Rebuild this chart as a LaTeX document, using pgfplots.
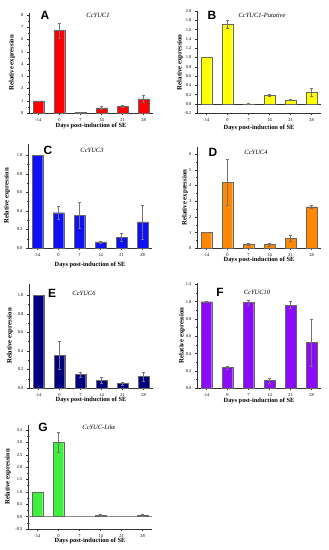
\documentclass[border=0pt]{standalone}
\usepackage{pgfplots}
\pgfplotsset{compat=1.18}
\usepackage{fontspec}
\setmainfont{Liberation Serif}
\newfontfamily\panelfont{Liberation Sans}
\definecolor{cA}{RGB}{255,0,0}
\definecolor{cB}{RGB}{255,255,0}
\definecolor{cC}{RGB}{16,16,245}
\definecolor{cD}{RGB}{255,136,0}
\definecolor{cE}{RGB}{0,0,128}
\definecolor{cF}{RGB}{140,10,250}
\definecolor{cG}{RGB}{60,240,60}
\pgfplotsset{
  panel/.style={
    scale only axis, width=124bp,
    axis x line*=bottom, axis y line*=left,
    axis line style={-, black!80, line width=0.5pt},
    xmin=-0.45, xmax=5.45,
    xtick={0,...,5}, xticklabels={-14,0,7,14,21,28},
    tick align=outside, major tick length=2bp, minor tick length=1bp,
    tick style={black!80, line width=0.4pt},
    minor y tick num=1,
    ticklabel style={font=\fontsize{4.5}{5}\selectfont},
    /pgf/number format/assume math mode=true,
    xlabel={Days post-induction of SE},
    ylabel={Relative expression},
    xlabel style={font=\fontsize{6.4}{7}\selectfont\bfseries, at={(axis description cs:0.5,0)}, anchor=center, yshift=-13bp},
    ylabel style={font=\fontsize{6.8}{7}\selectfont\bfseries, at={(axis description cs:0,0.5)}, anchor=center},
    clip=false,
  },
  dec1/.style={yticklabel style={/pgf/number format/.cd, fixed, fixed zerofill, precision=1}},
  bars/.style={ybar, bar width=10.5bp, fill=#1, draw=black!60, line width=0.3pt, mark=none,
    error bars/.cd, y dir=both, y explicit,
    error bar style={black!55, line width=0.4pt},
    error mark options={rotate=90, mark size=1.2bp, black!55}},
}
\newcommand{\ttl}[3]{\node[font=\fontsize{6.5}{7}\selectfont\itshape] at (#1bp,#2bp) {#3};}
\newcommand{\lett}[3]{\node[font=\panelfont\fontsize{12}{12}\selectfont\bfseries] at (#1bp,#2bp) {#3};}
\begin{document}
\begin{tikzpicture}
\path[use as bounding box] (0,0) rectangle (329bp,550bp);
% A
\begin{axis}[panel, at={(29bp,437bp)}, anchor=south west, height=100.4bp,
  ymin=0, ymax=8.2, ytick={0,1,...,8}, ylabel style={yshift=17bp}]
\addplot[bars=cA] coordinates {(0,1.0) +- (0,0) (1,6.75) +- (0,0.62) (2,0.03) +- (0,0.01) (3,0.42) +- (0,0.15) (4,0.55) +- (0,0.08) (5,1.15) +- (0,0.3)};
\end{axis}
\lett{45}{535}{A}
\ttl{98}{535}{CcYUC1}
% B
\begin{axis}[panel, dec1, at={(197bp,436.7bp)}, anchor=south west, height=102.3bp,
  ymin=-0.2, ymax=2.0, ytick={-0.2,0,0.2,...,2.0}, ylabel style={yshift=17bp}, xlabel style={yshift=-2bp}]
\draw[black!80, line width=0.5pt] (axis cs:-0.45,0) -- (axis cs:5.45,0);
\addplot[bars=cB] coordinates {(0,1.0) +- (0,0) (1,1.72) +- (0,0.08) (2,0.005) +- (0,0.005) (3,0.18) +- (0,0.02) (4,0.085) +- (0,0.01) (5,0.26) +- (0,0.09)};
\end{axis}
\lett{212}{535}{B}
\ttl{262}{535}{CcYUC1-Putative}
% C
\begin{axis}[panel, dec1, at={(28bp,302bp)}, anchor=south west, height=104bp,
  ymin=0, ymax=1.12, ytick={0,0.2,...,1.0}, ylabel style={yshift=21bp}, xlabel style={yshift=-4bp}]
\addplot[bars=cC] coordinates {(0,1.0) +- (0,0) (1,0.38) +- (0,0.07) (2,0.35) +- (0,0.14) (3,0.065) +- (0,0.01) (4,0.115) +- (0,0.04) (5,0.28) +- (0,0.18)};
\end{axis}
\lett{48}{400}{C}
\ttl{92}{400}{CcYUC3}
% D
\begin{axis}[panel, at={(197bp,301.7bp)}, anchor=south west, height=101.3bp,
  ymin=0, ymax=6.45, ytick={0,...,6}, ylabel style={yshift=12bp}, xlabel style={yshift=1bp}]
\addplot[bars=cD] coordinates {(0,1.0) +- (0,0) (1,4.2) +- (0,1.45) (2,0.25) +- (0,0.08) (3,0.25) +- (0,0.1) (4,0.65) +- (0,0.17) (5,2.65) +- (0,0.12)};
\end{axis}
\lett{213}{398}{D}
\ttl{256}{398}{CcYUC4}
% E
\begin{axis}[panel, dec1, at={(29bp,162bp)}, anchor=south west, height=104bp,
  ymin=0, ymax=1.12, ytick={0,0.2,...,1.0}, ylabel style={yshift=19bp}, xlabel style={yshift=1bp}]
\addplot[bars=cE] coordinates {(0,1.0) +- (0,0) (1,0.35) +- (0,0.15) (2,0.145) +- (0,0.03) (3,0.085) +- (0,0.03) (4,0.05) +- (0,0.015) (5,0.125) +- (0,0.05)};
\end{axis}
\lett{52}{257}{E}
\ttl{84}{257}{CcYUC6}
% F
\begin{axis}[panel, dec1, at={(197bp,161.7bp)}, anchor=south west, height=105.7bp,
  ymin=0, ymax=1.22, ytick={0,0.2,...,1.2}, ylabel style={yshift=15bp}]
\addplot[bars=cF] coordinates {(0,1.0) +- (0,0) (1,0.24) +- (0,0.02) (2,0.99) +- (0,0.03) (3,0.09) +- (0,0.03) (4,0.96) +- (0,0.04) (5,0.53) +- (0,0.27)};
\end{axis}
\lett{220}{258}{F}
\ttl{257}{258}{CcYUC10}
% G
\begin{axis}[panel, dec1, at={(28bp,21bp)}, anchor=south west, height=104bp,
  ymin=-0.5, ymax=3.7, ytick={-0.5,0,0.5,...,3.5}, ylabel style={yshift=20bp}, xlabel style={yshift=1bp}]
\draw[black!45, line width=1pt] (axis cs:-0.45,0) -- (axis cs:5.45,0);
\addplot[bars=cG] coordinates {(0,1.0) +- (0,0) (1,3.0) +- (0,0.4) (3,0.05) +- (0,0.03) (5,0.06) +- (0,0.05)};
\end{axis}
\lett{43}{123}{G}
\ttl{99}{123}{CcYUC-Like}
\end{tikzpicture}
\end{document}
